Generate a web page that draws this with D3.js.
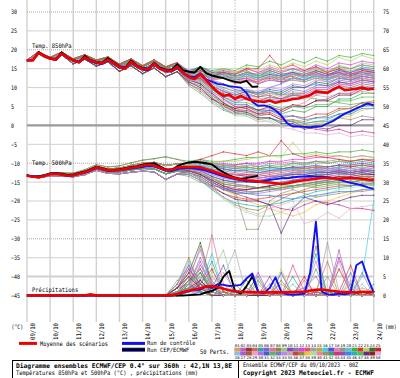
<!DOCTYPE html>
<html>
<head>
<meta charset="utf-8">
<script src="https://cdn.jsdelivr.net/npm/d3@7"></script>
<style>
  body { margin: 0; background: #fff; }
  svg { display: block; }
  text { font-family: "DejaVu Sans Mono", monospace; fill: #000; }
</style>
</head>
<body>
<script>
/* ECMWF ensemble diagram: T850, T500 and precipitation */

const dates = ["09/10","10/10","11/10","12/10","13/10","14/10","15/10","16/10",
  "17/10","18/10","19/10","20/10","21/10","22/10","23/10","24/10"];
const leftTicks = [30,25,20,15,10,5,0,-5,-10,-15,-20,-25,-30,-35,-40,-45];
const rightTicks = [75,70,65,60,55,50,45,40,35,30,25,20,15,10,5,0];

// 6-hourly main runs
const t850Mean = [17.2,17.2,19.2,18.3, 17.7,17.4,19.0,18.0, 17.2,16.7,18.0,17.2, 16.7,16.4,17.4,16.5,
  15.5,15.0,16.8,15.7, 15.0,14.8,16.4,15.0, 14.6,14.4,15.5,13.9, 12.8,12.3,13.6,12.0,
  10.3,8.8,7.8,8.2, 7.0,7.8,7.0,6.6, 6.4,6.2,6.6,6.0, 6.4,6.6,7.0,7.1,
  7.6,8.0,9.0,8.8, 8.6,9.5,10.2,9.3, 9.5,9.7,10.0,9.5, 9.7];
const t850Ctrl = [17.2,17.2,19.1,18.2, 17.6,17.3,18.9,17.9, 17.1,16.6,17.9,17.0, 16.5,16.2,17.2,16.3,
  15.3,14.9,16.6,15.5, 14.8,14.6,16.2,14.9, 14.4,14.2,15.2,14.0, 13.0,12.8,13.8,12.2,
  11.6,11.0,10.8,10.4, 10.2,10.0,8.6,6.2, 5.2,5.3,4.9,4.0, 2.6,0.6,-0.3,-0.3,
  -0.4,-0.5,-0.3,-0.2, 0.5,1.2,2.2,3.1, 3.8,4.5,5.2,5.8, 5.3];
const t850Oper = [17.2,17.3,19.4,18.4, 17.8,17.5,19.3,18.1, 17.3,16.8,18.4,17.3, 16.8,16.6,17.8,16.7,
  15.7,15.3,17.2,15.9, 15.2,15.0,16.6,15.3, 14.8,14.7,16.2,14.6, 14.2,14.0,15.5,13.8,
  13.2,12.8,12.5,12.0, 11.5,11.3,11.8,10.2, 10.3];

const t500Mean = [-13.3,-13.6,-13.7,-13.4, -12.9,-12.8,-13.0,-13.3, -13.2,-12.8,-12.4,-11.8, -11.1,-11.5,-11.9,-11.9,
  -11.8,-11.5,-11.2,-11.0, -10.7,-10.4,-10.6,-11.2, -11.8,-11.8,-11.2,-11.0, -11.0,-11.0,-11.1,-11.6,
  -12.0,-12.6,-13.1,-13.6, -14.0,-14.3,-14.5,-14.6, -14.8,-15.0,-15.1,-15.3, -15.5,-15.3,-15.0,-14.7,
  -14.5,-14.3,-14.1,-13.9, -13.9,-14.0,-14.1,-14.0, -13.9,-14.0,-14.1,-14.3, -14.4];
const t500Ctrl = [-13.3,-13.5,-13.6,-13.3, -12.8,-12.7,-13.1,-13.4, -13.3,-12.9,-12.5,-12.0, -11.3,-11.6,-12.1,-12.0,
  -11.9,-11.7,-11.4,-11.2, -11.0,-10.8,-10.9,-11.4, -12.0,-12.1,-11.6,-11.3, -11.3,-11.4,-11.6,-12.0,
  -12.5,-13.0,-13.5,-13.9, -14.2,-14.5,-14.8,-14.9, -15.0,-14.6,-14.4,-14.2, -14.0,-14.0,-13.8,-13.6,
  -13.5,-13.4,-13.5,-13.6, -13.7,-13.9,-14.3,-14.8, -15.2,-15.5,-15.9,-16.4, -16.8];
const t500Oper = [-13.2,-13.5,-13.5,-13.2, -12.7,-12.6,-12.8,-13.1, -13.0,-12.6,-12.2,-11.6, -10.9,-11.3,-11.7,-11.7,
  -11.6,-11.3,-11.0,-10.8, -10.4,-10.1,-10.0,-10.8, -11.6,-11.8,-10.8,-10.2, -9.8,-9.6,-9.8,-10.0,
  -10.3,-11.5,-12.4,-13.2, -13.8,-14.1,-13.9,-13.6, -13.3];

const precMean = [0,0,0,0, 0,0,0,0, 0,0,0,0.3, 0,0,0,0, 0,0,0,0, 0,0,0,0, 0,0.1,0.4,0.9,
  1.3,1.6,1.9,2.3, 2.5,2.2,1.8,1.4, 1.1,1.0,0.9,0.9, 0.8,0.9,0.8,0.9, 0.8,0.9,0.9,1.0,
  1.0,1.3,1.5,1.6, 1.4,1.2,1.0,0.9, 0.9,0.8,1.0,0.9, 0.9];
const precCtrl = [0,0,0,0, 0,0,0,0, 0,0,0,0, 0,0,0,0, 0,0,0,0, 0,0,0,0, 0,0,0.3,0.8,
  1.2,1.5,1.5,2.5, 2.0,3.0,2.8,2.5, 2.6,2.8,4.5,5.8, 1.0,0.5,2.0,4.8, 1.0,0.3,0.2,0.3,
  0.5,6.0,19.5,1.0, 0.3,0.2,0.5,0.3, 0.8,8.0,9.0,4.5, 0.8];
const precOper = [0,0,0,0, 0,0,0,0, 0,0,0,0, 0,0,0,0, 0,0,0,0, 0,0,0,0, 0,0,0,0,
  0.1,0.2,0.3,0.8, 1.2,2.0,5.0,6.5, 1.2,0.5,2.5,5.0, 1.0];

// 12-hourly perturbed members (50)
const t850Members = [
[17.2,19.2,17.7,19,17.2,18,16.7,17.4,15.5,16.8,15,16.4,14.6,15.5,13.5,14.5,13,13.5,12.5,13.5,12.5,13.5,12.5,13,12,13.5,12.5,14,13,14,13.5],
[17.2,19.3,17.8,19.2,17.4,18.3,17,17.8,15.9,17.2,15.5,16.9,15.1,16.1,13,14,12.5,13,12,12.5,11.5,13,12,13.5,13,14,13,14.5,13.5,15,14],
[17.3,19.5,18,19.4,17.6,18.7,17.3,18.1,16.2,17.6,15.8,17.3,15.5,16.6,14,15,13.5,14,13,14,13,14.5,13.5,14,13,14.5,13.5,14,13,14.5,14],
[17.2,19,17.6,18.8,17,17.7,16.3,17,15.1,16.3,14.5,15.8,14,14.9,13.5,14,12,12.5,11,12,11.5,13,12.5,13,12,13,12,13.5,12.5,13,12.5],
[17.2,19.3,17.8,19.2,17.4,18.3,17,17.8,15.9,17.2,15.5,16.9,15.1,16.1,14,15.5,14,14.5,13.5,14.5,13,14,13,13.5,12.5,14,13,15,14,15.5,15],
[17.1,19.1,17.6,18.9,17.1,17.8,16.4,17.1,15.2,16.4,14.6,15.9,14.2,15,13,14,12,11,9.5,9,8.5,10,11,12.5,12,13.5,13,14,13.5,14,13],
[17.3,19.5,18,19.4,17.6,18.7,17.3,18.1,16.2,17.6,15.8,17.3,15.5,16.6,14.5,15,13.5,14,13.5,15,14,15.5,14.5,15,14,15,14,15.5,15,16,15.5],
[17.2,19.2,17.7,19,17.2,18,16.7,17.4,15.5,16.8,15,16.4,14.6,15.5,13,13.5,12.5,13,12.5,13,12,12.5,11.5,12,11.5,12.5,12,13,12.5,13.5,13],
[17.2,19.3,17.8,19.2,17.4,18.3,17,17.8,15.9,17.2,15.5,16.9,15.1,16.1,14,14.5,13,13,12,13,12.5,14,13,14.5,13.5,15,14,16,15,16.5,16],
[17.2,19,17.6,18.8,17,17.7,16.3,17,15.1,16.3,14.5,15.8,14,14.9,13.5,14.5,13,13.5,12,12.5,11,12,11.5,12.5,12,13,12.5,13.5,13,14,13.5],
[17.3,19.5,18,19.4,17.6,18.7,17.3,18.1,16.2,17.6,15.8,17.3,15.5,16.6,13,14,13,14,13,14,13.5,14.5,13.5,14,13,13.5,12.5,13,12,12.5,12],
[17.2,19.3,17.8,19.2,17.4,18.3,17,17.8,15.9,17.2,15.5,16.9,15.1,16.1,14,15,13.5,14.5,14,15,14,15,14,15,14.5,16,15,16.5,16,17,16.5],
[17.1,19.1,17.6,18.9,17.1,17.8,16.4,17.1,15.2,16.4,14.6,15.9,14.2,15,13.5,14,12.5,12.5,11.5,12,11,12.5,12,13.5,13,14,13,14,13,13.5,13],
[17.2,19.2,17.7,19,17.2,18,16.7,17.4,15.5,16.8,15,16.4,14.6,15.5,13,14.5,13.5,14,12.5,13,12,13,12,12.5,11.5,12.5,11.5,12.5,12,13,12.5],
[17.3,19.5,18,19.4,17.6,18.7,17.3,18.1,16.2,17.6,15.8,17.3,15.5,16.6,14,15,14,15,14,14.5,13,13.5,12.5,13.5,13,14.5,14,15,14.5,15,14.5],
[17.2,19,17.6,18.8,17,17.7,16.3,17,15.1,16.3,14.5,15.8,14,14.9,13.5,14,12.5,13,12,13.5,13,14,13,13.5,12.5,13,12,13,12,13.5,13],
[17.2,19.3,17.8,19.2,17.4,18.3,17,17.8,15.9,17.2,15.5,16.9,15.1,16.1,14.5,15.5,14,14,13,13.5,12.5,13.5,13,14,13.5,14.5,13.5,14.5,14,15,14.5],
[17.1,19.1,17.6,18.9,17.1,17.8,16.4,17.1,15.2,16.4,14.6,15.9,14.2,15,13,13.5,12,12.5,11.5,12.5,12,13,12.5,13.5,13,13.5,12.5,13,12.5,13.5,13.5],
[17.3,19.5,18,19.4,17.6,18.7,17.3,18.1,16.2,17.6,15.8,17.3,15.5,16.6,14,15,13,13.5,13,14,13.5,15,14,15,14,15.5,14.5,15.5,15,16,15.5],
[17.2,19.2,17.7,19,17.2,18,16.7,17.4,15.5,16.8,15,16.4,14.6,15.5,13.5,14.5,13.5,14,13,13.5,12.5,13,12,12.5,12,13,12.5,13.5,13,14,14],
[17.2,19.3,17.8,19.2,17.4,18.3,17,17.8,15.9,17.2,15.5,16.9,15.1,16.1,14,15.5,14.5,15,14.5,16,15.5,17,16,17.5,16.5,18,17,18.5,18,19,18.5],
[17.3,19.5,18,19.4,17.6,18.7,17.3,18.1,16.2,17.6,15.8,17.3,15.5,16.6,13.5,14.5,13,14,13.5,15,15,18.5,15,16,14.5,15.5,14,15,13.5,14.5,14],
[17.2,19.2,17.7,19,17.2,18,16.7,17.4,15.5,16.8,15,16.4,14.6,15.5,13,14,13.5,15,14,15.5,14.5,16,15,16.5,15.5,17,16,18,17,18.5,17.5],
[17.2,19.2,17.7,19,17.2,18,16.7,17.4,15.5,16.8,15,16.4,14.6,15.5,12.5,13,10.5,9,8,9,8,9,8.5,10,10,11.5,11,12.5,12,13,12.5],
[17.2,19,17.6,18.8,17,17.7,16.3,17,15.1,16.3,14.5,15.8,14,14.9,12,12.5,10,8.5,7,7.5,6.5,7.5,7,8.5,8.5,10,10,11.5,11,12,11.5],
[17.1,19.1,17.6,18.9,17.1,17.8,16.4,17.1,15.2,16.4,14.6,15.9,14.2,15,13,13.5,11,9.5,8.5,9.5,8.5,9,8,9,8.5,10,10,11,10.5,11.5,11],
[17.2,19,17.5,18.7,16.3,17.5,15.7,16.8,14.3,15.8,13.7,15.2,12.9,14.2,12.5,13,10,8,7,8,7.5,8.5,8,9.5,9,10.5,10.5,12,11.5,12.5,12],
[17.2,19,17.6,18.8,17,17.7,16.3,17,15.1,16.3,14.5,15.8,14,14.9,12,12,9.5,8,7.5,8.5,7.5,8,7,8,7.5,9,9,10.5,10,11,10.5],
[17.2,19.2,17.7,19,17.2,18,16.7,17.4,15.5,16.8,15,16.4,14.6,15.5,13,13.5,11.5,10,9,9.5,8,8.5,7.5,8.5,8,9.5,9.5,11,11,12.5,12],
[17.2,19,17.5,18.7,16.3,17.5,15.7,16.8,14.3,15.8,13.7,15.2,12.9,14.2,12.5,12.5,9.5,7.5,6.5,7,6,7,6.5,8,8,9.5,9.5,11,10.5,11.5,11],
[17.1,19.1,17.6,18.9,17.1,17.8,16.4,17.1,15.2,16.4,14.6,15.9,14.2,15,12,13,10.5,9,8,9,8.5,9.5,9,10.5,10,11,10.5,11.5,11,12,11.5],
[17.2,19.3,17.8,19.2,17.4,18.3,17,17.8,15.9,17.2,15.5,16.9,15.1,16.1,12.5,13,11,10,9,9.5,8.5,9,8,8.5,7.5,7,6.5,6,5.5,6,5],
[17.2,19,17.5,18.7,16.3,17.5,15.7,16.8,14.3,15.8,13.7,15.2,12.9,14.2,12,12.5,9.5,7.5,6,7,6,7.5,7,8,7.5,8.5,8.5,10,9.5,10.5,10],
[17.2,19.2,17.7,19,17.2,18,16.7,17.4,15.5,16.8,15,16.4,14.6,15.5,13,13,10.5,9,8.5,9.5,9,10,9.5,11,10.5,12,11.5,12.5,12,13,12.5],
[17.2,19,17.6,18.8,17,17.7,16.3,17,15.1,16.3,14.5,15.8,14,14.9,12.5,13.5,11,9.5,8,8,7,7.5,6.5,7.5,7,8,7.5,8.5,8,9,8.5],
[17.2,19,17.5,18.7,16.3,17.5,15.7,16.8,14.3,15.8,13.7,15.2,12.9,14.2,11,9.5,7,5,4,4.5,3,3.5,2,2.5,2,3,3,4.5,4.5,6,6],
[17.1,19.1,17.6,18.9,17.1,17.8,16.4,17.1,15.2,16.4,14.6,15.9,14.2,15,12,11,8,5.5,3.5,3,1.5,2,1,1.5,1,2,2.5,4,4.5,6,6.5],
[17.2,19,17.6,18.8,17,17.7,16.3,17,15.1,16.3,14.5,15.8,14,14.9,12.5,12,9,6,4,4,2.5,3,1.5,1,0,0.5,0.5,2,2.5,4,4.5],
[17.2,19,17.5,18.7,16.3,17.5,15.7,16.8,14.3,15.8,13.7,15.2,12.9,14.2,11.5,10,7.5,4.5,2.5,2.5,1,1.5,0,0.5,-0.5,0.5,1,2.5,3,5,5.5],
[17.2,19.2,17.7,19,17.2,18,16.7,17.4,15.5,16.8,15,16.4,14.6,15.5,12,11.5,8.5,6.5,5,5.5,4,4.5,3.5,5,6,8,9,10.5,11,12,12],
[17.2,19,17.5,18.7,16.3,17.5,15.7,16.8,14.3,15.8,13.7,15.2,12.9,14.2,10.5,8.5,6,4,3,3.5,2.5,3,1.5,1.5,0.5,1,1,2,1.5,2.5,2],
[17.1,19.1,17.6,18.9,17.1,17.8,16.4,17.1,15.2,16.4,14.6,15.9,14.2,15,12,11,8,6,4.5,5,3.5,4,3,4,3.5,5,5,7,7,8.5,8.5],
[17.2,19,17.6,18.8,17,17.7,16.3,17,15.1,16.3,14.5,15.8,14,14.9,12.5,12.5,10,7,5,4.5,3,3,1.5,1,-0.5,-1,-1.5,-1,-2,-1.5,-2],
[17.2,19,17.5,18.7,16.3,17.5,15.7,16.8,14.3,15.8,13.7,15.2,12.9,14.2,11.5,10.5,7.5,5,3.5,4,3,4,3.5,5,5,6.5,7,8.5,8.5,10,10],
[17.2,19.2,17.7,19,17.2,18,16.7,17.4,15.5,16.8,15,16.4,14.6,15.5,12,11.5,9,7,5.5,5.5,4,4,2.5,2.5,1.5,2,2,3,3,4.5,4.5],
[17.2,19,17.5,18.7,16.3,17.5,15.7,16.8,14.3,15.8,13.7,15.2,12.9,14.2,11,9,6.5,4.5,3,3,2,2,1,1,0.5,1,1.5,3,3.5,5,5.5],
[17.1,19.1,17.6,18.9,17.1,17.8,16.4,17.1,15.2,16.4,14.6,15.9,14.2,15,12.5,12,9.5,7.5,6,6,5,5.5,4.5,5,4.5,5.5,5.5,6.5,6.5,7.5,7.5],
[17.2,19,17.6,18.8,17,17.7,16.3,17,15.1,16.3,14.5,15.8,14,14.9,12,11,8.5,6,4,3.5,2,2,0.5,0.5,-1,-0.5,-1,0,0,1.5,1.5],
[17.2,19,17.5,18.7,16.3,17.5,15.7,16.8,14.3,15.8,13.7,15.2,12.9,14.2,11.5,10,7,5.5,4.5,5,4,5,4,5.5,5,6.5,6.5,8,8,9.5,9.5],
[17.1,19.1,17.6,18.9,17.1,17.8,16.4,17.1,15.2,16.4,14.6,15.9,14.2,15,12,11.5,8,5,3,2.5,1,1,-0.5,-1,-2,-2,-2.5,-2,-3,-2.5,-3]
];

const t500Members = [
[-13.3,-13.7,-13,-13,-13.2,-12.4,-11.1,-11.9,-11.8,-11.2,-10.7,-10.6,-11.8,-11.2,-10.5,-10,-11,-11.5,-12,-12,-12.5,-12,-12,-11.5,-11.5,-11,-11.5,-11,-11.5,-11,-11.5],
[-13.2,-13.5,-12.8,-12.8,-12.9,-12.1,-10.8,-11.5,-11.3,-10.6,-10,-9.8,-10.6,-10.2,-11,-10.5,-11.5,-12.5,-13,-13.5,-13,-12.5,-12,-11.5,-11,-11,-11.5,-11,-11,-10.5,-11],
[-13.2,-13.5,-12.8,-12.8,-12.9,-12.1,-10.8,-11.5,-11.3,-10.6,-10,-9.8,-10.6,-10.2,-10,-9.5,-10.5,-11,-11.5,-11,-11.5,-11,-11.5,-11,-11.5,-11,-11,-10.5,-11,-10.5,-11],
[-13.3,-13.7,-13,-13,-13.2,-12.4,-11.1,-11.9,-11.8,-11.2,-10.7,-10.6,-11.8,-11.2,-11,-11,-12,-13,-13.5,-13,-14,-13.5,-13,-12.5,-12.5,-12,-12.5,-12,-12.5,-12,-12.5],
[-13.2,-13.5,-12.8,-12.8,-12.9,-12.1,-10.8,-11.5,-11.3,-10.6,-10,-9.8,-10.6,-10.2,-10,-9,-10,-10.5,-10.5,-10,-11,-10.5,-11,-10,-10.5,-9.5,-10,-9.5,-10,-9.5,-10],
[-13.3,-13.8,-13.2,-13.2,-13.4,-12.7,-11.5,-12.3,-12.3,-11.8,-11.4,-11.5,-12.8,-12.1,-11.5,-11,-12.5,-13.5,-14,-14.5,-15,-14,-13.5,-12.5,-12,-11.5,-12,-11.5,-12,-11.5,-12],
[-13.2,-13.4,-12.6,-12.5,-12.6,-11.7,-10.4,-11,-10.7,-9.9,-9.2,-8.8,-8.3,-9,-10,-9.5,-10,-10.5,-10.5,-10,-10.5,-9.5,-10,-9.5,-10,-9.5,-10,-9.5,-9.5,-9,-9.5],
[-13.3,-13.7,-13,-13,-13.2,-12.4,-11.1,-11.9,-11.8,-11.2,-10.7,-10.6,-11.8,-11.2,-11,-11,-11.5,-12,-12.5,-13,-13,-13.5,-13,-13,-12.5,-12.5,-12,-12,-12.5,-12,-12],
[-13.2,-13.5,-12.8,-12.8,-12.9,-12.1,-10.8,-11.5,-11.3,-10.6,-10,-9.8,-10.6,-10.2,-10.5,-10,-11,-11.5,-12,-11.5,-12,-11,-11,-10.5,-10.5,-10,-10,-9.5,-9.5,-9,-9],
[-13.3,-13.8,-13.2,-13.2,-13.4,-12.7,-11.5,-12.3,-12.3,-11.8,-11.4,-11.5,-12.8,-12.1,-11,-10.5,-12,-12.5,-13,-13.5,-14,-13.5,-13.5,-13,-13,-12.5,-12.5,-12,-12,-11.5,-12],
[-13.3,-13.7,-13,-13,-13.2,-12.4,-11.1,-11.9,-11.8,-11.2,-10.7,-10.6,-11.8,-11.2,-10.5,-10,-10.5,-11,-11,-11,-11.5,-11,-11.5,-11.5,-12,-12,-12.5,-12.5,-13,-12.5,-13],
[-13.2,-13.5,-12.8,-12.8,-12.9,-12.1,-10.8,-11.5,-11.3,-10.6,-10,-9.8,-10.6,-10.2,-10,-9.5,-10,-10,-10.5,-10,-10,-9.5,-9.5,-9,-9,-8.5,-8.5,-8,-8.5,-8,-8.5],
[-13.3,-13.8,-13.2,-13.2,-13.4,-12.7,-11.5,-12.3,-12.3,-11.8,-11.4,-11.5,-12.8,-12.1,-11,-11,-12,-12.5,-13,-13,-13.5,-13,-12.5,-12,-12,-11.5,-11.5,-11.5,-12,-11.5,-12],
[-13.3,-13.7,-13,-13,-13.2,-12.4,-11.1,-11.9,-11.8,-11.2,-10.7,-10.6,-11.8,-11.2,-10.5,-10.5,-11,-11.5,-12,-12.5,-12.5,-12.5,-13,-12.5,-13,-12.5,-13,-12.5,-13,-12.5,-13],
[-13.2,-13.5,-12.8,-12.8,-12.9,-12.1,-10.8,-11.5,-11.3,-10.6,-10,-9.8,-10.6,-10.2,-10,-9.5,-10,-10.5,-11,-11,-11.5,-12,-12,-11.5,-11.5,-11,-11,-10.5,-10.5,-10.5,-10.5],
[-13.3,-13.7,-13,-13,-13.2,-12.4,-11.1,-11.9,-11.8,-11.2,-10.7,-10.6,-11.8,-11.2,-11,-10.5,-11.5,-12,-12,-11.5,-12,-11.5,-11.5,-11.5,-12,-12,-12,-11.5,-12,-11.5,-12],
[-13.2,-13.5,-12.8,-12.8,-12.9,-12.1,-10.8,-11.5,-11.3,-10.6,-10,-9.8,-10.6,-10.2,-10,-10,-10.5,-11.5,-12,-12,-12.5,-12,-11.5,-11,-11,-10.5,-11,-10.5,-10.5,-10,-10.5],
[-13.3,-13.8,-13.2,-13.2,-13.4,-12.7,-11.5,-12.3,-12.3,-11.8,-11.4,-11.5,-12.8,-12.1,-11,-11,-12,-12.5,-13,-12.5,-13,-12.5,-12,-12,-12,-11.5,-12,-12,-12,-11.5,-11.5],
[-13.2,-13.5,-12.8,-12.8,-12.9,-12.1,-10.8,-11.5,-11.3,-10.6,-10,-9.8,-10.6,-10.2,-10,-9.5,-10.5,-10.5,-11,-10.5,-11,-10,-10.5,-10,-10,-9.5,-9.5,-9,-9.5,-9,-9],
[-13.3,-13.7,-13,-13,-13.2,-12.4,-11.1,-11.9,-11.8,-11.2,-10.7,-10.6,-11.8,-11.2,-10.5,-10.5,-11,-11,-11.5,-11.5,-12,-11.5,-12,-11.5,-12,-11.5,-11.5,-11,-11.5,-11,-11.5],
[-13.2,-13.4,-12.6,-12.5,-12.6,-11.7,-10.4,-11,-10.7,-9.9,-9.2,-8.8,-8.3,-9,-9.5,-9,-9.5,-9.5,-9,-8.5,-8.5,-8,-8,-7.5,-7.5,-7,-7.5,-7,-7,-6.5,-7],
[-13.2,-13.5,-12.8,-12.8,-12.9,-12.1,-10.8,-11.5,-11.3,-10.6,-10,-9.8,-10.6,-10.2,-10,-9,-8,-7,-7.5,-8,-7,-8,-4,-7.5,-8.5,-8,-8.5,-9,-9.5,-9,-9.5],
[-13.2,-13.5,-12.8,-12.8,-12.9,-12.1,-10.8,-11.5,-11.3,-10.6,-10,-9.8,-10.6,-10.2,-10.5,-10,-10,-9.5,-9.5,-9,-8.5,-8,-8.5,-4.5,-8,-7.5,-8,-8,-8.5,-8,-8.5],
[-13.3,-13.7,-13,-13,-13.2,-12.4,-11.1,-11.9,-11.8,-11.2,-10.7,-10.6,-11.8,-11.2,-11.5,-12,-13.5,-14.5,-15,-14.5,-15,-14.5,-14,-13.5,-13.5,-13,-13,-12.5,-13,-12.5,-13],
[-13.3,-13.8,-13.2,-13.2,-13.4,-12.7,-11.5,-12.3,-12.3,-11.8,-11.4,-11.5,-12.8,-12.1,-12,-12.5,-14,-15.5,-16,-16,-16.5,-16,-15.5,-15,-14.5,-14,-14,-13.5,-14,-13.5,-14],
[-13.3,-13.7,-13,-13,-13.2,-12.4,-11.1,-11.9,-11.8,-11.2,-10.7,-10.6,-11.8,-11.2,-11,-11.5,-13,-14,-14.5,-14.5,-15,-15,-15,-14.5,-14,-13.5,-13.5,-13,-13.5,-13,-13.5],
[-13.4,-13.9,-13.3,-13.4,-13.6,-13,-11.9,-12.7,-12.8,-12.4,-12.1,-12.3,-14.3,-12.9,-11.5,-12.5,-14.5,-16,-16.5,-17,-16.5,-16,-15.5,-14.5,-14,-13.5,-13.5,-13,-13,-12.5,-13],
[-13.3,-13.8,-13.2,-13.2,-13.4,-12.7,-11.5,-12.3,-12.3,-11.8,-11.4,-11.5,-12.8,-12.1,-12,-12.5,-14,-15,-15.5,-16,-16.5,-16.5,-17,-16.5,-16,-15.5,-15,-14.5,-15,-14.5,-15],
[-13.3,-13.7,-13,-13,-13.2,-12.4,-11.1,-11.9,-11.8,-11.2,-10.7,-10.6,-11.8,-11.2,-11,-11.5,-12.5,-13.5,-14,-14.5,-15,-15.5,-15.5,-15,-15,-14.5,-14,-13.5,-14,-13.5,-13.5],
[-13.4,-13.9,-13.3,-13.4,-13.6,-13,-11.9,-12.7,-12.8,-12.4,-12.1,-12.3,-14.3,-12.9,-12,-13,-15,-16.5,-17.5,-18,-18,-17.5,-17,-16,-15.5,-15,-14.5,-14,-14.5,-14,-14.5],
[-13.3,-13.8,-13.2,-13.2,-13.4,-12.7,-11.5,-12.3,-12.3,-11.8,-11.4,-11.5,-12.8,-12.1,-11.5,-12,-13.5,-14.5,-15,-15,-14.5,-14,-13.5,-13,-13,-12.5,-12.5,-12,-12.5,-12,-12.5],
[-13.3,-13.7,-13,-13,-13.2,-12.4,-11.1,-11.9,-11.8,-11.2,-10.7,-10.6,-11.8,-11.2,-11,-11.5,-12.5,-13.5,-14,-14.5,-15,-15,-15.5,-16,-16,-16.5,-16,-15.5,-16,-15.5,-16],
[-13.4,-13.9,-13.3,-13.4,-13.6,-13,-11.9,-12.7,-12.8,-12.4,-12.1,-12.3,-14.3,-12.9,-12,-13,-15,-16.5,-17,-17.5,-17.5,-17,-16.5,-16,-15.5,-15,-15,-14.5,-15,-14.5,-15],
[-13.3,-13.7,-13,-13,-13.2,-12.4,-11.1,-11.9,-11.8,-11.2,-10.7,-10.6,-11.8,-11.2,-11.5,-12,-13,-14,-14.5,-14,-14,-13.5,-13,-12.5,-12.5,-12,-12,-11.5,-12,-11.5,-12],
[-13.3,-13.8,-13.2,-13.2,-13.4,-12.7,-11.5,-12.3,-12.3,-11.8,-11.4,-11.5,-12.8,-12.1,-11.5,-12.5,-14,-15,-15.5,-16,-16.5,-17,-17,-16.5,-16,-16,-15.5,-15.5,-15.5,-15,-15.5],
[-13.4,-13.9,-13.3,-13.4,-13.6,-13,-11.9,-12.7,-12.8,-12.4,-12.1,-12.3,-14.3,-12.9,-13,-14.5,-16.5,-18,-19,-19.5,-19.5,-19,-18.5,-18,-17.5,-17,-16.5,-16,-16,-15.5,-15.5],
[-13.3,-13.8,-13.2,-13.2,-13.4,-12.7,-11.5,-12.3,-12.3,-11.8,-11.4,-11.5,-12.8,-12.1,-12.5,-14,-16.5,-19,-21,-22,-22.5,-21,-19.5,-18,-17,-16,-15.5,-15,-15,-14.5,-14.5],
[-13.4,-13.9,-13.3,-13.4,-13.6,-13,-11.9,-12.7,-12.8,-12.4,-12.1,-12.3,-14.3,-12.9,-12,-13,-15,-17,-18.5,-20,-21,-22,-23,-24,-23,-21,-20,-19,-18,-17,-16.5],
[-13.3,-13.8,-13.2,-13.2,-13.4,-12.7,-11.5,-12.3,-12.3,-11.8,-11.4,-11.5,-12.8,-12.1,-13,-14.5,-17,-19.5,-21.5,-23,-24,-24,-23,-21.5,-20,-19,-18,-17,-16.5,-16,-15.5],
[-13.3,-13.7,-13,-13,-13.2,-12.4,-11.1,-11.9,-11.8,-11.2,-10.7,-10.6,-11.8,-11.2,-12,-13,-14.5,-16,-17,-17.5,-17.5,-17,-16.5,-16,-15.5,-15,-14.5,-14,-14,-13.5,-13.5],
[-13.4,-13.9,-13.3,-13.4,-13.6,-13,-11.9,-12.7,-12.8,-12.4,-12.1,-12.3,-14.3,-12.9,-13.5,-15,-16,-16.5,-17.5,-27.5,-27.5,-20,-18,-17,-18,-19,-18.5,-18,-17.5,-17.5,-17],
[-13.3,-13.8,-13.2,-13.2,-13.4,-12.7,-11.5,-12.3,-12.3,-11.8,-11.4,-11.5,-12.8,-12.1,-12.5,-13.5,-15.5,-17,-18,-18,-17.5,-17,-16.5,-16,-15.5,-15,-14.5,-14,-14,-13.5,-13.5],
[-13.4,-13.9,-13.3,-13.4,-13.6,-13,-11.9,-12.7,-12.8,-12.4,-12.1,-12.3,-14.3,-12.9,-12,-13,-15,-16.5,-18,-19,-20,-21,-22,-22.5,-21,-20,-20.5,-21,-22,-22,-22.5],
[-13.3,-13.7,-13,-13,-13.2,-12.4,-11.1,-11.9,-11.8,-11.2,-10.7,-10.6,-11.8,-11.2,-12.5,-13.5,-15.5,-17,-17.5,-17,-16.5,-16,-15,-14.5,-14,-13.5,-13,-12.5,-12.5,-12,-12],
[-13.3,-13.8,-13.2,-13.2,-13.4,-12.7,-11.5,-12.3,-12.3,-11.8,-11.4,-11.5,-12.8,-12.1,-12,-13,-15,-16.5,-17.5,-18,-18.5,-18.5,-19,-19.5,-19,-18.5,-18,-17.5,-17.5,-17,-17],
[-13.4,-13.9,-13.3,-13.4,-13.6,-13,-11.9,-12.7,-12.8,-12.4,-12.1,-12.3,-14.3,-12.9,-13,-14.5,-17,-19,-20.5,-21,-21.5,-21,-20.5,-19.5,-18.5,-17.5,-17,-16.5,-16,-15.5,-15.5],
[-13.3,-13.8,-13.2,-13.2,-13.4,-12.7,-11.5,-12.3,-12.3,-11.8,-11.4,-11.5,-12.8,-12.1,-12,-13,-14.5,-15.5,-16,-16.5,-16.5,-16.5,-16,-16,-15.5,-15.5,-15,-15,-15,-14.5,-14.5],
[-13.4,-13.9,-13.3,-13.4,-13.6,-13,-11.9,-12.7,-12.8,-12.4,-12.1,-12.3,-14.3,-12.9,-12.5,-14,-16,-18,-19.5,-20,-20,-21,-28.5,-22,-19,-20,-21,-20,-19,-18.5,-18.5],
[-13.3,-13.7,-13,-13,-13.2,-12.4,-11.1,-11.9,-11.8,-11.2,-10.7,-10.6,-11.8,-11.2,-12,-13,-14.5,-16,-17,-17,-16.5,-16,-15.5,-15,-14.5,-14,-14,-13.5,-13.5,-13,-13],
[-13.4,-13.9,-13.3,-13.4,-13.6,-13,-11.9,-12.7,-12.8,-12.4,-12.1,-12.3,-14.3,-12.9,-12.5,-14,-16.5,-19,-21,-22.5,-23.5,-22,-21,-20,-26,-25,-23,-24.5,-22,-21.5,-21]
];

const precMembers = [
[0,0,0,0,0,0,0,0,0,0,0,0, 0,1,3,5,2,1,0,1,0,1,3,1,0,0,1,0,0,2,1],
[0,0,0,0,0,0,0,0,0,0,0,0, 0,0,2,8,3,0,0,1,0,0,0,1,2,5,0,0,1,0,1],
[0,0,0,0,0,0,0,0,0,0,0,0, 0,2,6,2,1,0,1,0,4,0,0,0,1,0,0,7,1,0,0],
[0,0,0,0,0,0,0,0,0,0,0,0, 0,1,4,13,2,0,0,0,1,2,0,0,0,1,9,0,0,1,0],
[0,0,0,0,0,0,0,0,0,0,0,0, 0,0,1,3,9,1,0,0,0,1,0,5,0,0,1,0,3,0,0],
[0,0,0,0,0,0,0,0,0,0,0,0, 0,3,8,1,0,1,0,2,0,0,1,0,0,1,0,0,0,1,0],
[0,0,0,0,0,0,0,0,0,0,0,0, 0,0,2,4,16,3,0,0,1,0,0,0,4,0,0,1,0,0,0],
[0,0,0,0,0,0,0,0,0,0,0,0, 0,1,5,2,0,0,3,0,0,1,0,0,0,13,0,0,0,0,1],
[0,0,0,0,0,0,0,0,0,0,0,0, 0,0,0,2,6,12,1,0,0,0,1,0,0,0,0,1,0,0,0],
[0,0,0,0,0,0,0,0,0,0,0,0, 0,2,3,1,0,1,0,0,0,5,0,0,1,0,0,10,2,0,0],
[0,0,0,0,0,0,0,0,0,0,0,0, 0,0,3,10,4,0,0,1,0,0,0,0,0,1,0,0,0,6,0],
[0,0,0,0,0,0,0,0,0,0,0,0, 0,1,2,6,1,0,0,0,6,0,0,1,0,0,0,0,1,0,0],
[0,0,0,0,0,0,0,0,0,0,0,0, 0,0,1,3,1,0,1,0,0,0,0,8,1,0,0,0,0,0,1],
[0,0,0,0,0,0,0,0,0,0,0,0, 0,4,7,2,0,0,0,1,0,0,0,0,0,0,14,1,0,0,0],
[0,0,0,0,0,0,0,0,0,0,0,0, 0,0,1,2,5,2,0,0,3,0,1,0,0,0,0,0,4,0,0],
[0,0,0,0,0,0,0,0,0,0,0,0, 0,2,5,3,11,1,0,0,0,1,0,0,1,0,0,0,0,5,25],
[0,0,0,0,0,0,0,0,0,0,0,0, 0,0,0,1,2,8,0,1,0,0,6,0,0,0,1,0,0,0,0],
[0,0,0,0,0,0,0,0,0,0,0,0, 0,1,3,1,0,0,1,0,0,0,0,1,0,9,0,0,0,1,0],
[0,0,0,0,0,0,0,0,0,0,0,0, 0,0,2,5,2,0,0,0,1,0,0,0,0,0,5,0,1,0,0],
[0,0,0,0,0,0,0,0,0,0,0,0, 0,3,9,3,0,0,0,0,0,1,0,3,0,0,0,0,0,0,1],
[0,0,0,0,0,0,0,0,0,0,0,0, 0,0,1,2,1,0,0,4,0,0,1,0,0,1,0,0,0,0,3],
[0,0,0,0,0,0,0,0,0,0,0,0, 0,1,4,7,1,0,0,0,0,0,0,1,0,0,0,1,8,0,0],
[0,0,0,0,0,0,0,0,0,0,0,0, 0,0,2,2,0,1,0,0,0,0,7,0,0,1,0,0,0,1,0],
[0,0,0,0,0,0,0,0,0,0,0,0, 0,2,6,14,3,0,0,1,0,0,0,0,1,0,0,0,0,0,0],
[0,0,0,0,0,0,0,0,0,0,0,0, 0,0,1,3,7,1,0,0,0,1,0,0,5,0,0,1,0,0,0],
[0,0,0,0,0,0,0,0,0,0,0,0, 0,1,2,1,0,0,0,0,4,0,0,1,0,0,0,0,0,3,0],
[0,0,0,0,0,0,0,0,0,0,0,0, 0,0,3,9,2,0,1,0,0,0,0,0,1,0,0,12,0,0,0],
[0,0,0,0,0,0,0,0,0,0,0,0, 0,1,2,4,1,0,0,0,1,0,0,0,0,0,1,0,0,0,1],
[0,0,0,0,0,0,0,0,0,0,0,0, 0,0,0,2,4,6,1,0,0,0,1,0,0,0,0,0,1,0,0],
[0,0,0,0,0,0,0,0,0,0,0,0, 0,2,8,4,0,0,0,1,0,3,0,0,0,1,0,0,0,0,0],
[0,0,0,0,0,0,0,0,0,0,0,0, 0,0,1,1,0,0,1,0,0,0,0,1,0,0,0,1,0,0,0],
[0,0,0,0,0,0,0,0,0,0,0,0, 0,1,3,6,2,0,0,0,0,1,0,0,0,7,0,0,1,0,0],
[0,0,0,0,0,0,0,0,0,0,0,0, 0,0,2,3,1,0,0,1,0,0,0,0,1,0,0,0,6,0,0],
[0,0,0,0,0,0,0,0,0,0,0,0, 0,1,5,12,2,0,0,0,0,0,1,0,0,0,1,0,0,0,0],
[0,0,0,0,0,0,0,0,0,0,0,0, 0,0,1,2,3,5,12,0,0,0,0,1,0,0,0,0,0,1,0],
[0,0,0,0,0,0,0,0,0,0,0,0, 0,0,2,4,1,0,0,0,1,0,0,0,0,1,0,0,0,0,1],
[0,0,0,0,0,0,0,0,0,0,0,0, 0,3,10,2,0,0,0,1,0,0,4,0,0,0,0,1,0,0,0],
[0,0,0,0,0,0,0,0,0,0,0,0, 0,0,1,2,0,0,0,0,0,1,0,0,0,0,0,0,1,0,0],
[0,0,0,0,0,0,0,0,0,0,0,0, 0,1,3,5,1,0,1,0,0,0,0,0,1,0,0,0,0,0,0],
[0,0,0,0,0,0,0,0,0,0,0,0, 0,0,2,8,3,0,0,0,0,0,0,1,0,0,0,9,0,0,0],
[0,0,0,0,0,0,0,0,0,0,0,0, 0,1,1,2,0,0,0,0,1,0,0,0,0,0,1,0,0,0,0],
[0,0,0,0,0,0,0,0,0,0,0,0, 0,0,4,6,1,0,0,1,5,0,0,0,0,0,0,0,0,1,0],
[0,0,0,0,0,0,0,0,0,0,0,0, 0,2,7,3,0,0,0,0,0,0,0,0,1,0,0,0,0,0,0],
[0,0,0,0,0,0,0,0,0,0,0,0, 0,0,1,3,2,0,0,0,0,1,0,0,0,0,0,1,0,0,0],
[0,0,0,0,0,0,0,0,0,0,0,0, 0,1,2,2,1,0,0,0,0,0,0,1,0,0,0,0,0,0,0],
[0,0,0,0,0,0,0,0,0,0,0,0, 0,0,3,7,2,0,0,0,0,0,0,0,0,11,0,0,0,0,0],
[0,0,0,0,0,0,0,0,0,0,0,0, 0,1,2,1,0,0,1,0,0,0,0,0,0,0,1,0,0,0,0],
[0,0,0,0,0,0,0,0,0,0,0,0, 0,0,1,4,1,0,0,0,0,0,1,0,0,0,0,0,0,1,0],
[0,0,0,0,0,0,0,0,0,0,0,0, 0,2,5,2,0,0,0,0,0,0,0,0,0,0,0,0,1,0,0],
[0,0,0,0,0,0,0,0,0,0,0,0, 0,0,1,2,1,0,0,0,1,0,0,0,0,0,0,0,0,0,0]
];

const memberColors = [
  "#d8a060","#c060c0","#a03030","#c87060","#30a0a0","#8060e0","#e070a0","#a08040","#90d070","#9040c0",
  "#8080a0","#e040e0","#e05070","#a0a0a0","#b0b040","#40d0e0","#5050e0","#e080c0","#80a080","#60c0d0",
  "#40b040","#e03030","#c0d060","#307030","#d02020",
  "#90c0e0","#a060d0","#a06040","#f0a0c0","#b070e0","#4060d0","#60b060","#7080c0","#c080f0","#b0b0b0",
  "#d04040","#909030","#f0c040","#a0e0a0","#f080a0","#a09070","#40a060","#d03080","#9050b0","#4080f0",
  "#30b0b0","#50c050","#603080","#902020","#e0b0d0"];

const width = 400, height = 378;

const svg = d3.select("body").append("svg")
  .attr("width", width)
  .attr("height", height);

const x6 = d3.scaleLinear().domain([0, 60]).range([27, 373.7]);   // 6-hourly steps
const xDay = d3.scaleLinear().domain([0, 15]).range([27, 373.7]);
const yT = d3.scaleLinear().domain([-45, 30]).range([295.5, 12]);  // temperatures
const yP = d3.scaleLinear().domain([0, 75]).range([295.5, 12]);    // precipitation

// small helper: narrow pixel-ish text
function label(g, x, y, s, cw, opts = {}) {
  return g.append("text")
    .attr("x", x).attr("y", y)
    .attr("font-size", opts.size || 6.2)
    .attr("font-weight", opts.bold ? "bold" : null)
    .attr("textLength", s.length * cw)
    .attr("lengthAdjust", "spacingAndGlyphs")
    .text(s);
}

// ---- grid
const grid = svg.append("g");
grid.selectAll("line.v")
  .data(d3.range(dates.length))
  .join("line")
  .attr("x1", d => xDay(d)).attr("x2", d => xDay(d))
  .attr("y1", 0).attr("y2", 322)
  .attr("stroke", "#d0d0d0")
  .attr("stroke-width", 1.4)
  .attr("stroke-dasharray", d => dates[d] === "18/10" ? "1.4,1.4" : null);

grid.selectAll("line.h")
  .data(leftTicks)
  .join("line")
  .attr("x1", 27).attr("x2", 373.7)
  .attr("y1", d => yT(d)).attr("y2", d => yT(d))
  .attr("stroke", d => d === 0 ? "#9a9a9a" : ([30, 20, -10, -30].includes(d) ? "#a8a8a8" : "#d0d0d0"))
  .attr("stroke-width", d => d === 0 ? 2.2 : (d === -40 ? 2 : 1))
  .attr("stroke-dasharray", d => [30, 20, -10, -30].includes(d) ? "1,1" : null);

// ---- axes
const axL = svg.append("g")
  .attr("transform", "translate(11,0)")
  .call(d3.axisRight(yT).tickValues(leftTicks).tickSize(0).tickPadding(0));
const axR = svg.append("g")
  .attr("transform", "translate(383,0)")
  .call(d3.axisRight(yP).tickValues(rightTicks).tickSize(0).tickPadding(0));
[axL, axR].forEach(ax => {
  ax.select(".domain").remove();
  ax.attr("font-family", null).attr("font-size", 6.2);
  ax.selectAll("text").attr("fill", "#000")
    .attr("textLength", function () { return this.textContent.length * 3; })
    .attr("lengthAdjust", "spacingAndGlyphs");
});

const axB = svg.append("g")
  .attr("transform", "translate(0,323)")
  .call(d3.axisBottom(xDay).tickValues(d3.range(dates.length)).tickFormat(i => dates[i]).tickSize(0));
axB.select(".domain").remove();
axB.attr("font-family", null).attr("font-size", 6.4);
axB.selectAll("text")
  .attr("fill", "#000")
  .attr("transform", "rotate(-90)")
  .attr("text-anchor", "end")
  .attr("x", 0).attr("y", 7.4).attr("dy", 0)
  .attr("textLength", 17)
  .attr("lengthAdjust", "spacingAndGlyphs");

// ---- ensemble members
function drawMembers(sets, yScale) {
  const line = d3.line().x((d, i) => x6(i * 2)).y(d => yScale(d));
  const g = svg.append("g").attr("fill", "none").attr("stroke-width", 0.7);
  g.selectAll("path")
    .data(sets)
    .join("path")
    .attr("stroke", (d, i) => memberColors[i])
    .attr("d", line);
  const dots = svg.append("g");
  sets.forEach((s, m) => {
    dots.append("g")
      .attr("fill", memberColors[m])
      .selectAll("rect")
      .data(s)
      .join("rect")
      .attr("x", (d, i) => x6(i * 2) - 0.6)
      .attr("y", d => yScale(d) - 0.6)
      .attr("width", 1.2).attr("height", 1.2);
  });
}
drawMembers(t850Members, yT);
drawMembers(t500Members, yT);
drawMembers(precMembers, yP);

// ---- main runs: oper (black), control (blue), mean (red)
const line6T = d3.line().x((d, i) => x6(i)).y(d => yT(d));
const line6P = d3.line().x((d, i) => x6(i)).y(d => yP(d));

const runs = svg.append("g").attr("fill", "none").attr("stroke-linejoin", "round");
[[t850Oper, line6T], [t500Oper, line6T], [precOper, line6P]].forEach(([s, l]) =>
  runs.append("path").attr("d", l(s)).attr("stroke", "#000").attr("stroke-width", 1.9));
[[t850Ctrl, line6T], [t500Ctrl, line6T], [precCtrl, line6P]].forEach(([s, l]) =>
  runs.append("path").attr("d", l(s)).attr("stroke", "#1010f0").attr("stroke-width", 1.9));
[[t850Mean, line6T], [t500Mean, line6T], [precMean, line6P]].forEach(([s, l]) =>
  runs.append("path").attr("d", l(s)).attr("stroke", "#ee0000").attr("stroke-width", 2.6));

// ---- panel titles
const txt = svg.append("g");
label(txt, 32, 48.3, "Temp. 850hPa", 3.3);
label(txt, 32, 165, "Temp. 500hPa", 3.3);
label(txt, 32, 292, "Précipitations", 3.3);
label(txt, 11.5, 328.5, "(°C)", 2.9);
label(txt, 385, 329, "(mm)", 2.9);

// ---- legend
const leg = svg.append("g");
leg.append("line").attr("x1", 19).attr("x2", 37).attr("y1", 343.4).attr("y2", 343.4)
  .attr("stroke", "#ee0000").attr("stroke-width", 3);
label(leg, 40, 345.6, "Moyenne des scénarios", 3.24);
leg.append("line").attr("x1", 122).attr("x2", 145).attr("y1", 343.4).attr("y2", 343.4)
  .attr("stroke", "#1010f0").attr("stroke-width", 3);
label(leg, 147, 345.4, "Run de contrôle", 3.24, { size: 5.8 });
leg.append("line").attr("x1", 122).attr("x2", 145).attr("y1", 349.7).attr("y2", 349.7)
  .attr("stroke", "#1010a0").attr("stroke-width", 4);
leg.append("line").attr("x1", 122).attr("x2", 145).attr("y1", 349.7).attr("y2", 349.7)
  .attr("stroke", "#000").attr("stroke-width", 2);
label(leg, 147, 352, "Run CEP/ECMWF", 3.24, { size: 5.8 });
label(leg, 200, 354.2, "50 Perts.", 3.24);

// member swatches 01..50
const sw = svg.append("g");
const swX = d3.scaleLinear().domain([0, 25]).range([234.3, 381]);
memberColors.forEach((c, m) => {
  const col = m % 25, row = Math.floor(m / 25);
  sw.append("rect")
    .attr("x", swX(col)).attr("y", 347.7 + row * 3.9)
    .attr("width", swX(1) - swX(0)).attr("height", 3.9)
    .attr("fill", c);
  sw.append("text")
    .attr("x", swX(col) + 0.4).attr("y", row ? 359 : 346.8)
    .attr("font-size", 3.8)
    .attr("textLength", 5).attr("lengthAdjust", "spacingAndGlyphs")
    .text(d3.format("02d")(m + 1));
});

// ---- bottom boxes
const box = svg.append("g");
box.append("rect").attr("x", 12.5).attr("y", 360.5).attr("width", 226).attr("height", 30)
  .attr("fill", "none").attr("stroke", "#000").attr("stroke-width", 1);
box.append("line").attr("x1", 238.5).attr("x2", 400).attr("y1", 360.5).attr("y2", 360.5)
  .attr("stroke", "#000");
label(box, 16, 367.6, "Diagramme ensembles ECMWF/CEP 0.4° sur 360h : 42,1N 13,8E", 3.79, { bold: true, size: 6.4 });
label(box, 16, 374.8, "Températures 850hPa et 500hPa (°C) , précipitations (mm)", 3.25);
label(box, 243, 366.8, "Ensemble ECMWF/CEP du 09/10/2023 - 00Z", 3.03);
label(box, 243, 375.2, "Copyright 2023 Meteociel.fr - ECMWF", 3.74, { bold: true, size: 6.4 });
</script>
</body>
</html>
